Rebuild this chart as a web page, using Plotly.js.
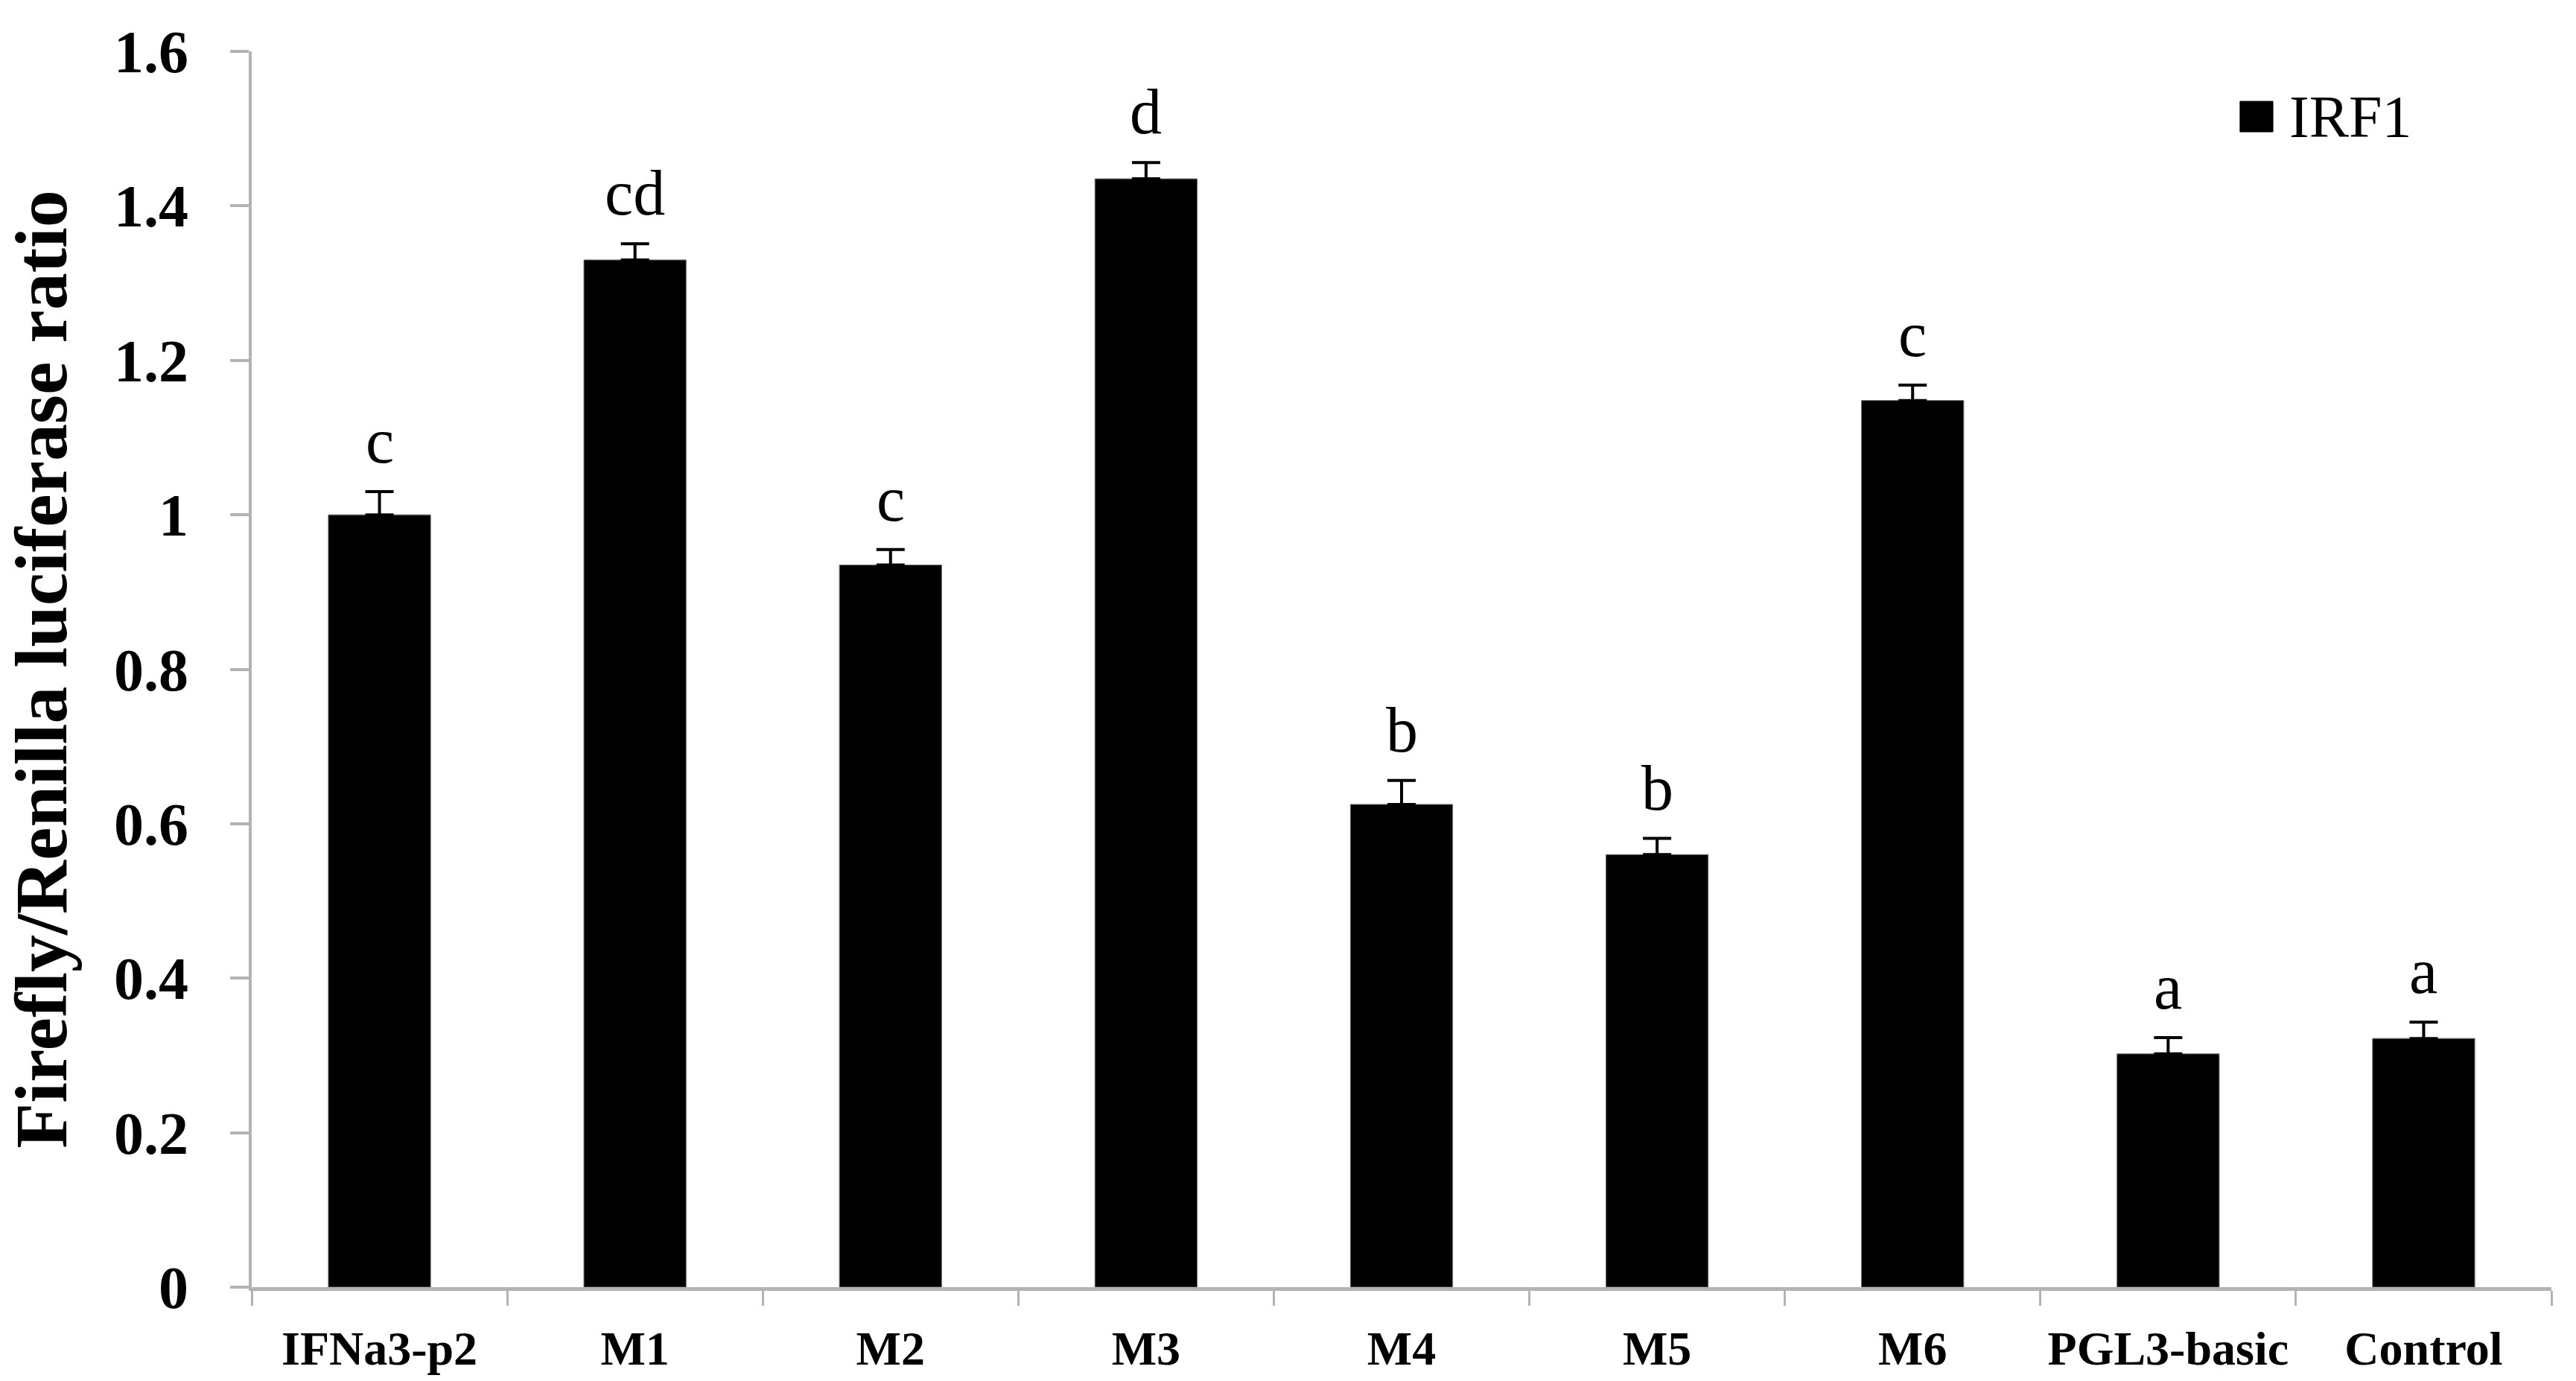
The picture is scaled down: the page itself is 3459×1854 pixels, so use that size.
<!DOCTYPE html>
<html>
<head>
<meta charset="utf-8">
<script src="https://cdn.plot.ly/plotly-3.0.1.min.js"></script>
<style>
  html, body { margin: 0; padding: 0; background: #fff; }
  #grafikoa { width: 3459px; height: 1854px; }
</style>
</head>
<body>
<div id="grafikoa"></div>
<script>
// datuak irudia begiratuta
let constructs = ["IFNa3-p2", "M1", "M2", "M3", "M4", "M5", "M6", "PGL3-basic", "Control"]
let ratio = [1.0, 1.33, 0.935, 1.435, 0.625, 0.56, 1.148, 0.302, 0.322]
let ratioErr = [0.03, 0.021, 0.02, 0.021, 0.031, 0.021, 0.02, 0.021, 0.021]
let letters = ["c", "cd", "c", "d", "b", "b", "c", "a", "a"]
let seriesName = "IRF1"
let yTicks = [0, 0.2, 0.4, 0.6, 0.8, 1, 1.2, 1.4, 1.6]

let serif = "Liberation Serif, Times New Roman, serif"
let axisGray = "#b3b3b3"

let data = [{
    type: "bar",
    x: constructs,
    y: ratio,
    name: seriesName,
    showlegend: false,
    marker: {color: "#000000", line: {color: "#6e6e6e", width: 1}},
    error_y: {type: "data", array: ratioErr, symmetric: false, arrayminus: ratio.map(() => 0),
              color: "#000000", thickness: 4, width: 19}
}]

// letrak barren gainean
let annotations = constructs.map((c, i) => ({
    x: c, y: ratio[i] + ratioErr[i], xref: "x", yref: "y",
    text: letters[i], showarrow: false, yanchor: "bottom", yshift: 18,
    font: {family: serif, size: 86, color: "#000"}
}))

// legenda eskuz (karratu handia)
annotations.push({
    x: 0.8854, y: 0.947, xref: "paper", yref: "paper", xanchor: "left", yanchor: "middle",
    text: seriesName, showarrow: false, font: {family: serif, size: 80, color: "#000"}
})

let layout = {
    width: 3459, height: 1854,
    margin: {l: 338, r: 33, t: 69, b: 126},
    paper_bgcolor: "#fff", plot_bgcolor: "#fff",
    bargap: 0.6,
    showlegend: false,
    font: {family: serif, color: "#000"},
    xaxis: {
        type: "category",
        showline: true, linecolor: axisGray, linewidth: 5,
        ticks: "outside", tickson: "boundaries", ticklen: 20, tickwidth: 3, tickcolor: axisGray,
        tickangle: 0,
        tickfont: {family: serif, size: 64, color: "#000", weight: "bold"},
        ticklabelstandoff: 22,
        showgrid: false, zeroline: false
    },
    yaxis: {
        range: [0, 1.6],
        tickvals: yTicks,
        ticktext: yTicks.map(v => String(v)),
        showline: true, linecolor: axisGray, linewidth: 4,
        ticks: "outside", ticklen: 25, tickwidth: 4, tickcolor: axisGray,
        tickfont: {family: serif, size: 80, color: "#000", weight: "bold"},
        ticklabelstandoff: 40,
        showgrid: false, zeroline: false,
        title: {text: "Firefly/Renilla luciferase ratio", standoff: 40,
                font: {family: serif, size: 100, color: "#000", weight: "bold"}}
    },
    shapes: [{
        type: "rect", xref: "paper", yref: "paper",
        x0: 0.8646, x1: 0.8789, y0: 0.9349, y1: 0.9596,
        fillcolor: "#000", line: {color: "#000", width: 1}
    }],
    annotations: annotations
}

Plotly.newPlot("grafikoa", data, layout, {displayModeBar: false, staticPlot: true})
</script>
</body>
</html>
